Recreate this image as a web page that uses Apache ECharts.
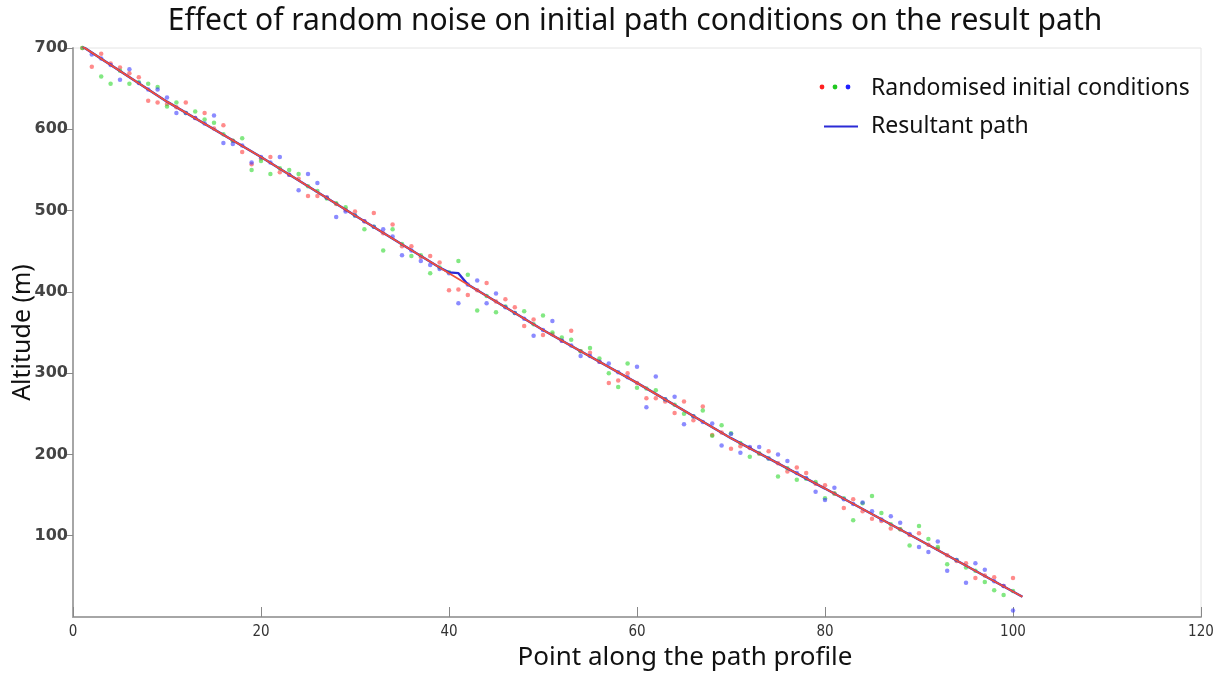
<!DOCTYPE html>
<html>
<head>
<meta charset="utf-8">
<script src="https://cdn.jsdelivr.net/npm/echarts@6/dist/echarts.min.js"></script>
<style>
html,body{margin:0;padding:0;background:#fff;}
#chart{width:1221px;height:675px;}
</style>
</head>
<body>
<div id="chart"></div>
<script>
// ---- data ----
const titleText = 'Effect of random noise on initial path conditions on the result path';
const xTicks = [0, 20, 40, 60, 80, 100, 120];
const yTicks = [100, 200, 300, 400, 500, 600, 700];

// point index along the profile for scatter values: 1..100
const redPoints = [700,677,693,681,676,669,664,635,633,631,627,633,614,620,601,605,586,572,557,564,
  566,547,544,539,518,518,516,508,501,499,487,497,472,483,456,456,443,444,436,402,
  403,396,402,411,388,391,381,358,366,347,348,340,352,327,325,314,288,291,300,288,
  269,269,265,251,265,242,259,224,227,207,210,208,201,204,189,179,184,177,164,162,
  152,134,145,130,121,118,109,108,101,103,89,84,76,69,66,48,51,49,38,48];
const greenPoints = [700,701,665,656,672,656,658,656,652,628,633,620,622,612,608,594,586,589,550,561,
  545,552,550,545,530,524,515,509,504,494,477,480,451,477,459,444,445,423,430,424,
  438,421,377,395,375,382,374,376,360,371,350,344,341,327,331,318,300,283,312,282,
  281,279,268,261,250,247,254,223,236,226,214,197,201,195,173,183,169,170,166,146,
  152,146,119,140,149,128,114,108,88,112,96,86,65,70,61,57,43,33,27,32];
const bluePoints = [702,692,687,679,661,674,657,649,649,639,620,620,614,607,617,583,582,580,559,566,
  559,566,544,525,545,534,516,492,499,494,487,480,477,468,445,451,438,433,428,423,
  386,409,414,386,398,381,374,367,346,353,364,340,334,321,321,314,312,301,295,308,
  258,296,268,271,237,247,240,238,211,225,202,209,209,195,200,192,177,171,154,144,
  159,145,139,141,130,120,124,116,102,86,80,93,57,70,42,66,58,44,38,8];

// red run path (drawn on top) and blue resultant path
const redPathX = [1, 10, 20, 30, 40, 50, 60, 70, 80, 90, 101];
const redPathY = [702, 634, 566, 494, 423, 353, 288, 220, 158, 95, 25];
const resultX = [1, 10, 20, 30, 39, 40, 41, 42, 50, 60, 70, 80, 90, 101];
const resultY = [702, 634, 566, 494, 430, 424, 423, 409, 353, 288, 220, 158, 95, 25];

function pts(arr){ return arr.map((v,i)=>[i+1, v]); }
function pairs(xs, ys){ return xs.map((x,i)=>[x, ys[i]]); }

const chart = echarts.init(document.getElementById('chart'), null, {renderer:'canvas'});
const axisGrey = '#a6a6a6';
const option = {
  animation: false,
  backgroundColor: '#fff',
  title: {
    text: titleText, left: 630, textAlign: 'center', top: 1,
    textStyle: {fontFamily: 'Noto Sans', fontSize: 30, fontWeight: 'normal', color: '#111'}
  },
  grid: {left: 73, right: 20, top: 48, bottom: 58, show: true, borderColor: '#e4e4e4', borderWidth: 1,
         outerBoundsMode: 'none', containLabel: false},
  legend: {
    orient: 'vertical', left: 818, top: 72, itemGap: 15, itemWidth: 34, itemHeight: 14,
    textStyle: {fontFamily: 'Noto Sans', fontSize: 23, color: '#111', padding: [0,0,0,8]},
    data: [
      {name: 'Randomised initial conditions', icon: 'none'},
      {name: 'Resultant path', itemStyle: {opacity: 0}}
    ]
  },
  xAxis: {
    type: 'value', min: 0, max: 120, interval: 20,
    name: 'Point along the path profile', nameLocation: 'middle', nameGap: 28, nameMoveOverlap: false,
    nameTextStyle: {fontFamily: 'Noto Sans', fontSize: 26, color: '#111', padding: [0,0,0,96]},
    axisLine: {show: true, lineStyle: {color: axisGrey, width: 2}},
    axisTick: {show: true, inside: true, length: 10, lineStyle: {color: '#888', width: 1}},
    axisLabel: {fontFamily: 'Liberation Sans Narrow, DejaVu Sans Condensed', fontSize: 15, fontWeight: 'normal', color: '#333', margin: 8},
    splitLine: {show: false}
  },
  yAxis: {
    type: 'value', min: 0, max: 700, interval: 100,
    name: 'Altitude (m)', nameLocation: 'middle', nameGap: 38, nameRotate: 90, nameMoveOverlap: false,
    nameTextStyle: {fontFamily: 'Noto Sans', fontSize: 25, color: '#111'},
    axisLine: {show: true, lineStyle: {color: axisGrey, width: 2}},
    axisTick: {show: true, inside: false, length: 8, lineStyle: {color: '#888', width: 1}},
    axisLabel: {showMinLabel: false, fontFamily: 'DejaVu Sans', fontSize: 16, fontWeight: 'bold', color: '#444', margin: 5},
    splitLine: {show: false}
  },
  series: [
    {name: 'Randomised initial conditions', type: 'scatter', data: pts(redPoints), symbol: 'circle', symbolSize: 4.5,
     itemStyle: {color: '#ff3d3d', opacity: 0.6}, z: 2},
    {name: 'green runs', type: 'scatter', data: pts(greenPoints), symbol: 'circle', symbolSize: 4.5,
     itemStyle: {color: '#2fd82f', opacity: 0.6}, z: 2},
    {name: 'blue runs', type: 'scatter', data: pts(bluePoints), symbol: 'circle', symbolSize: 4.5,
     itemStyle: {color: '#3d3dff', opacity: 0.6}, z: 2},
    {name: 'Resultant path', type: 'line', data: pairs(resultX, resultY), symbol: 'none',
     lineStyle: {color: '#2b2bd6', width: 2.4}, itemStyle: {color: '#2b2bd6'}, z: 3},
    {name: 'red run path', type: 'line', data: pairs(redPathX, redPathY), symbol: 'none',
     lineStyle: {color: '#f25038', width: 1.8}, z: 4}
  ],
  graphic: [
    {type: 'circle', shape: {cx: 822, cy: 87, r: 2.4}, style: {fill: '#ff2020'}},
    {type: 'circle', shape: {cx: 835, cy: 87, r: 2.4}, style: {fill: '#20c820'}},
    {type: 'circle', shape: {cx: 848, cy: 87, r: 2.4}, style: {fill: '#2020ff'}}
  ]
};
chart.setOption(option);
</script>
</body>
</html>
